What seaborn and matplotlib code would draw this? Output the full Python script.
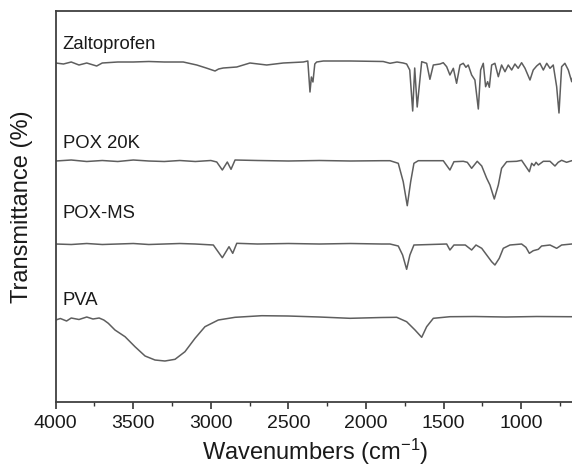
import matplotlib
matplotlib.use("Agg")
import matplotlib.pyplot as plt
from matplotlib.ticker import MultipleLocator
import seaborn as sns
import pandas as pd

# FTIR spectra, stacked with vertical offsets (arbitrary transmittance units)
zalto_wn = [4000, 3950, 3900, 3850, 3800, 3736, 3700, 3600, 3500, 3400, 3300, 3178, 3091,
            3030, 2973, 2950, 2920, 2833, 2748, 2640, 2533, 2404, 2375, 2361, 2352, 2342,
            2330, 2318, 2275, 2100, 1889, 1845, 1800, 1760, 1738, 1718, 1699, 1686, 1670,
            1641, 1609, 1588, 1566, 1523, 1502, 1480, 1459, 1437, 1416, 1394, 1373, 1356,
            1341, 1319, 1298, 1276, 1261, 1244, 1229, 1216, 1205, 1190, 1169, 1147, 1126,
            1104, 1083, 1061, 1040, 1019, 997, 975, 943, 922, 900, 879, 857, 835, 814, 793,
            771, 756, 739, 718, 696, 674, 650]
zalto_t = [339, 338, 340, 337, 339, 336, 339, 340, 340, 340.5, 340, 340, 337,
           334, 331, 333, 334, 335, 339, 337, 339, 340, 341, 310, 325, 320,
           338, 340, 341, 341, 340.5, 338.7, 340, 339, 338, 332, 291, 334, 295,
           340.3, 338.7, 322.7, 337, 338, 339.3, 335.3, 327, 333.7, 318.7, 337, 338.7, 334.7,
           337, 327, 322, 293, 332, 338.7, 315.3, 320.3, 314.7, 337, 338.7, 325.3, 337,
           330.3, 337, 332, 338, 333.7, 339.3, 333.7, 322, 332, 336, 338.7, 332, 338.7, 333.7, 337,
           315.3, 289, 335.3, 338.7, 332, 320.3, 337]

pox20k_wn = [4000, 3900, 3800, 3700, 3600, 3500, 3400, 3300, 3200, 3100, 3000, 2962, 2926,
             2894, 2870, 2844, 2700, 2500, 2300, 2100, 1900, 1845, 1792, 1760, 1734, 1712,
             1691, 1663, 1502, 1459, 1433, 1373, 1347, 1319, 1283, 1254, 1222, 1201, 1173,
             1147, 1126, 1093, 1029, 997, 947, 932, 917, 904, 889, 857, 814, 782, 761, 739,
             707, 674, 650]
pox20k_t = [241, 242, 240.5, 241.5, 240.5, 242, 241, 240.5, 241.5, 240.5, 241.5, 240, 232,
            240, 232.7, 242, 241.5, 241, 241.5, 241, 241.3, 241.3, 238.7, 220.3, 196.3, 220.3,
            238.7, 241.3, 241.3, 232, 240.3, 240.7, 239.7, 233.7, 240.7, 236, 223.7, 217, 203,
            217, 233.7, 240.3, 240.7, 241.7, 230.3, 238.7, 236.3, 239.7, 237, 240.7, 240.7, 236,
            239.7, 241.7, 239.7, 241.3, 241]

poxms_wn = [4000, 3900, 3800, 3700, 3600, 3500, 3400, 3300, 3200, 3100, 2984, 2926, 2883,
            2859, 2833, 2700, 2500, 2300, 2100, 1900, 1845, 1792, 1764, 1738, 1717, 1691,
            1480, 1459, 1433, 1360, 1319, 1291, 1254, 1222, 1190, 1169, 1141, 1115, 1072,
            997, 969, 947, 922, 889, 868, 814, 771, 739, 674, 650]
poxms_t = [158, 157.5, 158.5, 157.5, 158, 158.5, 157.5, 158, 158.5, 158, 157, 144.3, 155.3,
           148.7, 158.7, 158, 158.5, 158, 158.5, 158, 158, 156, 147, 132.7, 147, 157,
           158, 152, 157, 157, 152, 157, 153.7, 147, 140.3, 137, 143.7, 153.7, 157,
           158, 154.7, 148.7, 151.3, 152.7, 156, 157, 153.7, 157, 158, 158]

pva_wn = [4000, 3970, 3930, 3900, 3850, 3800, 3760, 3720, 3690, 3661, 3618, 3553, 3489,
          3424, 3360, 3296, 3231, 3167, 3102, 3038, 2952, 2844, 2672, 2501, 2300, 2103,
          1900, 1802, 1738, 1684, 1641, 1609, 1566, 1459, 1300, 1100, 900, 700, 650]
pva_t = [82, 83.5, 81, 84, 82.5, 85, 83, 84, 82, 78.7, 72, 65.3, 55.3,
         46, 42, 41, 42.7, 50.3, 63.7, 75.3, 82, 84.7, 86.3, 86, 85, 83.7,
         84.5, 84.7, 80.3, 72, 64.7, 75.3, 83.7, 85.3, 85.5, 85, 85.5, 85.3, 85.3]

series_names = ["Zaltoprofen", "POX 20K", "POX-MS", "PVA"]
label_y = [357, 259, 189, 102]

frames = []
for name, wn, t in zip(series_names,
                       [zalto_wn, pox20k_wn, poxms_wn, pva_wn],
                       [zalto_t, pox20k_t, poxms_t, pva_t]):
    frames.append(pd.DataFrame({"wavenumber": wn, "transmittance": t, "sample": name}))
df = pd.concat(frames, ignore_index=True)

sns.set_theme(style="white")
plt.rcParams["font.family"] = ["Liberation Sans", "DejaVu Sans"]
plt.rcParams["mathtext.default"] = "regular"

fig = plt.figure(figsize=(5.72, 4.68), dpi=100)
ax = fig.add_axes([0.0974, 0.141, 0.9086, 0.8355])

line_color = "#5e5e5e"
sns.lineplot(data=df, x="wavenumber", y="transmittance", hue="sample",
             units="sample", estimator=None, sort=True,
             palette=[line_color] * 4, linewidth=1.1, legend=False, ax=ax)

for name, ly in zip(series_names, label_y):
    ax.text(3955, ly, name, fontsize=13.3, color="#1a1a1a", ha="left", va="center")

ax.set_xlim(4000, 650)
ax.set_ylim(0, 391)
ax.xaxis.set_major_locator(MultipleLocator(500))
ax.xaxis.set_minor_locator(MultipleLocator(250))
ax.tick_params(axis="x", which="major", direction="out", length=5, width=1.2,
               color="#333333", labelsize=14, labelcolor="#1a1a1a", pad=4, bottom=True)
ax.tick_params(axis="x", which="minor", direction="out", length=3, width=1.0,
               color="#333333", bottom=True)
ax.set_yticks([])

for sp in ax.spines.values():
    sp.set_color("#404040")
    sp.set_linewidth(1.3)

ax.set_xlabel("Wavenumbers (cm$^{-1}$)", fontsize=17, color="#1a1a1a", labelpad=4)
ax.set_ylabel("Transmittance (%)", fontsize=17, color="#1a1a1a", labelpad=16)

fig.savefig("out.png", dpi=100)
